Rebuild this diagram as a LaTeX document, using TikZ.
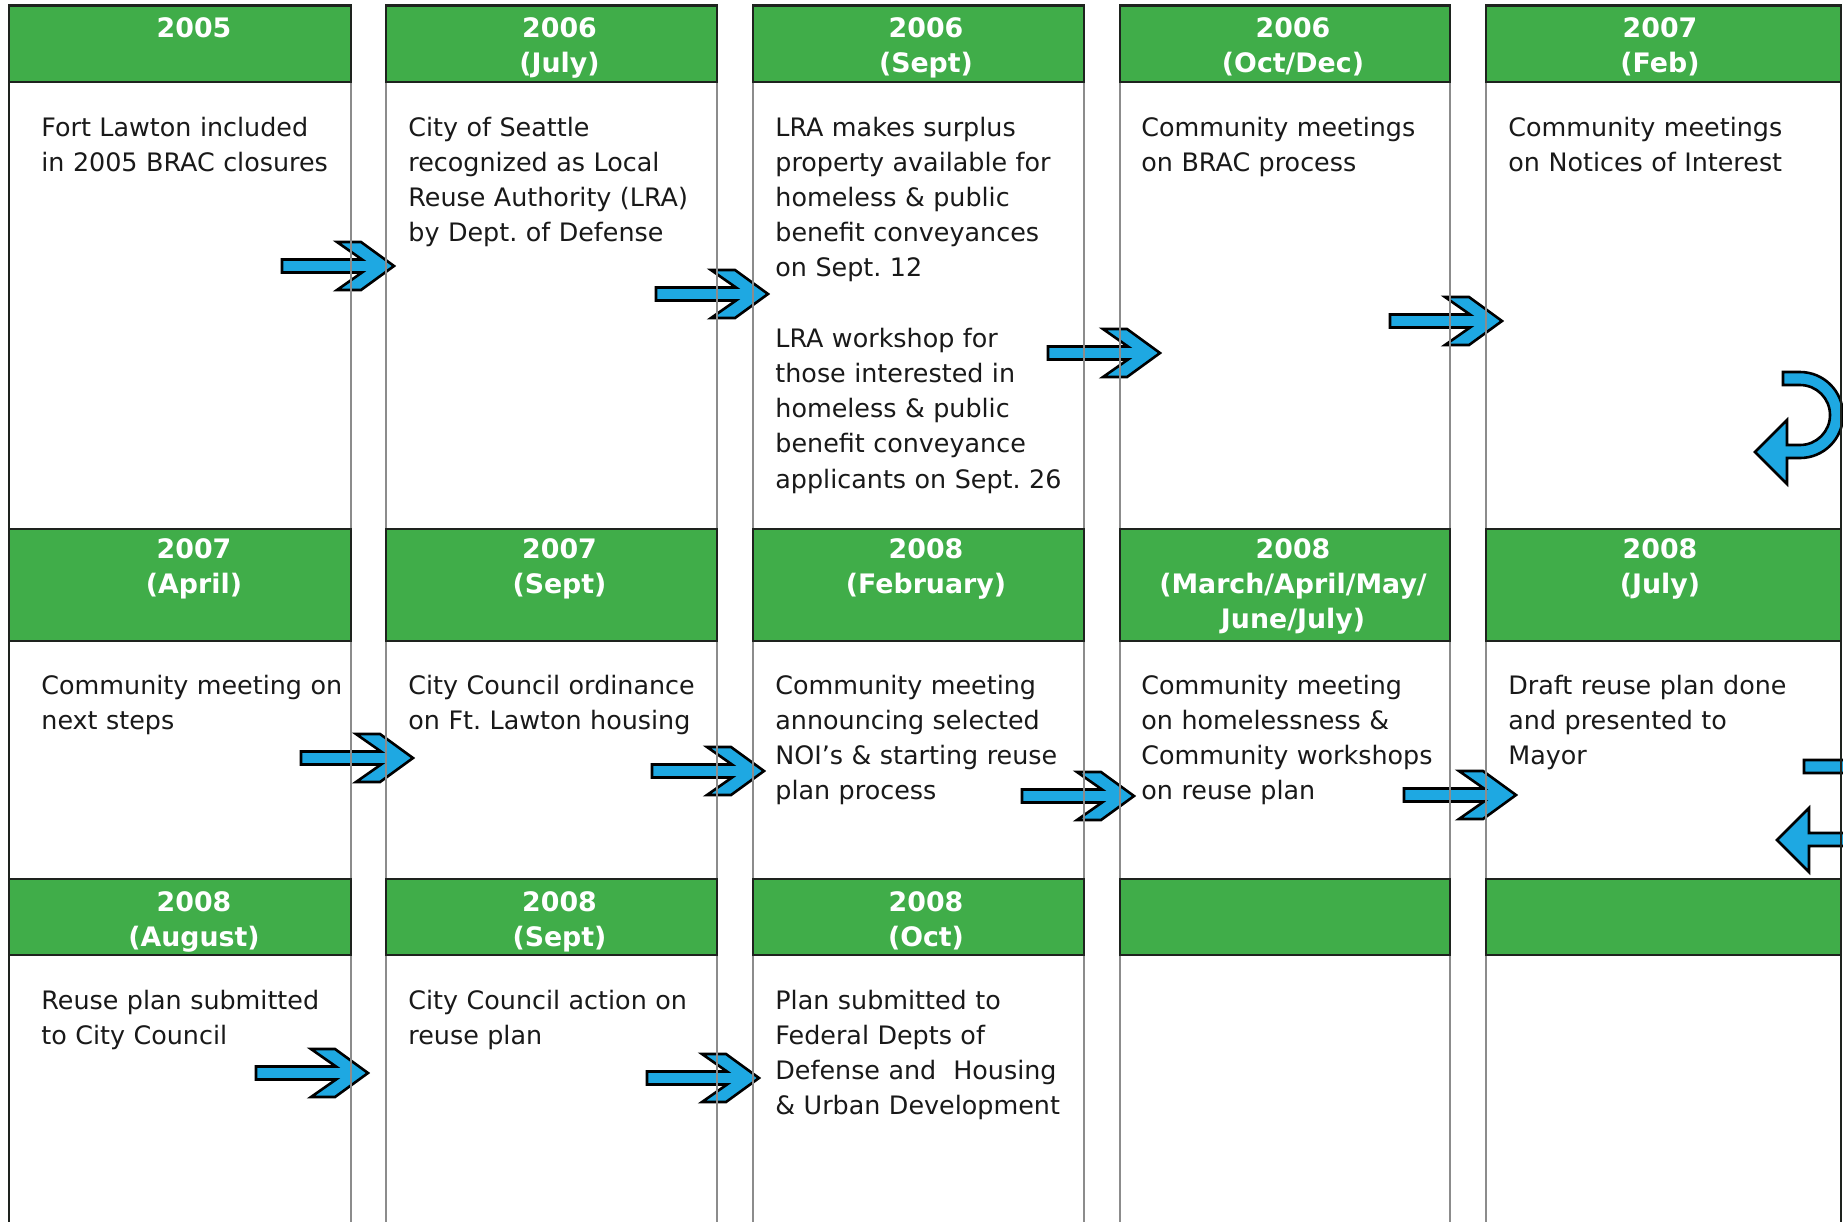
\documentclass[tikz,border=0pt]{standalone}
\usepackage{fontspec}
\setmainfont{DejaVu Sans}
\frenchspacing
\definecolor{hgreen}{RGB}{64,173,73}
\definecolor{ablue}{RGB}{30,168,226}
\definecolor{gline}{RGB}{140,140,140}
\definecolor{hdark}{RGB}{30,35,30}
\definecolor{txt}{RGB}{25,25,25}
\tikzset{
  hdr/.style={fill=hgreen, draw=hdark, line width=1pt},
  colline/.style={draw=gline, line width=0.6pt},
  frame/.style={draw=hdark, line width=1.3pt},
  hd/.style={anchor=base, align=center, text width=170pt, inner sep=0pt, text=white,
    font=\bfseries\fontsize{13.4}{17.7}\selectfont},
  bd/.style={anchor=base west, align=left, text width=175pt, inner sep=0pt, text=txt,
    font=\fontsize{12.7}{17.6}\selectfont},
  barrow/.style={fill=ablue, draw=black, line width=1.3pt, line join=miter},
  rarrow/.pic={\draw[barrow] (-112,-6.5) -- (-32,-6.5) -- (-57,-24) -- (-33,-24) -- (0,0)
     -- (-33,24) -- (-57,24) -- (-32,6.5) -- (-112,6.5) -- cycle;}
}
\begin{document}
\begin{tikzpicture}[x=0.5pt,y=-0.5pt]
\useasboundingbox (0,0) rectangle (1843,1222);
\clip (0,0) rectangle (1843,1222);
\fill[white] (0,0) rectangle (1843,1222);

% arrows (drawn under column lines)
\coordinate (t11) at (394,266);
\coordinate (t12) at (768,294);
\coordinate (t13) at (1160,353);
\coordinate (t14) at (1502,321);
\coordinate (t21) at (413,758);
\coordinate (t22) at (764,771);
\coordinate (t23) at (1134,796);
\coordinate (t24) at (1516,795);
\coordinate (t31) at (368,1073);
\coordinate (t32) at (759,1078);
\foreach \t in {t11,t12,t13,t14,t21,t22,t23,t24,t31,t32} {\pic at (\t) {rarrow};}

% U-turn arrows on the right edge
\draw[barrow] (1783,372) -- (1800,372) arc[start angle=-90,end angle=90,radius=43]
  -- (1787,458) -- (1787,484) -- (1755,452) -- (1787,420) -- (1787,445) -- (1800,445)
  arc[start angle=90,end angle=-90,radius=30] -- (1783,385) -- cycle;
\draw[barrow] (1804,760) -- (1850,760) arc[start angle=-90,end angle=90,radius=43]
  -- (1809,846) -- (1809,872) -- (1777,840) -- (1809,808) -- (1809,833) -- (1850,833)
  arc[start angle=90,end angle=-90,radius=30] -- (1804,773) -- cycle;

% column lines
\foreach \x in {351,386,717,753,1084,1120,1450,1486} {\draw[colline] (\x,5) -- (\x,1222);}

% header bars
\foreach \a/\b in {9/351,386/717,753/1084,1120/1450,1486/1841} {
  \draw[hdr] (\a,5) rectangle (\b,82);
  \draw[hdr] (\a,529) rectangle (\b,641);
  \draw[hdr] (\a,879) rectangle (\b,955);
  \draw[draw=hdark, line width=1.5pt] (\a,5) -- (\b,5);
}

% outer frame
\draw[frame] (9,4.5) -- (9,1222);
\draw[frame] (1841,4.5) -- (1841,1222);

% header texts row 1
\node[hd] (h11) at (194,37) {2005};
\node[hd] (h12) at (559.5,37) {2006\\(July)};
\node[hd] (h13) at (926,37) {2006\\(Sept)};
\node[hd] (h14) at (1293,37) {2006\\(Oct/Dec)};
\node[hd] (h15) at (1660,37) {2007\\(Feb)};
% row 2
\node[hd] (h21) at (194,558) {2007\\(April)};
\node[hd] (h22) at (559.5,558) {2007\\(Sept)};
\node[hd] (h23) at (926,558) {2008\\(February)};
\node[hd] (h24) at (1293,558) {2008\\(March/April/May/\\June/July)};
\node[hd] (h25) at (1660,558) {2008\\(July)};
% row 3
\node[hd] (h31) at (194,911) {2008\\(August)};
\node[hd] (h32) at (559.5,911) {2008\\(Sept)};
\node[hd] (h33) at (926,911) {2008\\(Oct)};

% body texts row 1
\node[bd] (b11) at (41,136) {Fort Lawton included\\in 2005 BRAC closures};
\node[bd] (b12) at (408,136) {City of Seattle\\recognized as Local\\Reuse Authority (LRA)\\by Dept. of Defense};
\node[bd] (b13) at (775,136) {LRA makes surplus\\property available for\\homeless \& public\\benefit conveyances\\on Sept. 12\\[17.6pt]LRA workshop for\\those interested in\\homeless \& public\\benefit conveyance\\applicants on Sept. 26};
\node[bd] (b14) at (1141,136) {Community meetings\\on BRAC process};
\node[bd] (b15) at (1508,136) {Community meetings\\on Notices of Interest};
% row 2
\node[bd] (b21) at (41,694) {Community meeting on\\next steps};
\node[bd] (b22) at (408,694) {City Council ordinance\\on Ft. Lawton housing};
\node[bd] (b23) at (775,694) {Community meeting\\announcing selected\\NOI’s \& starting reuse\\plan process};
\node[bd] (b24) at (1141,694) {Community meeting\\on homelessness \&\\Community workshops\\on reuse plan};
\node[bd] (b25) at (1508,694) {Draft reuse plan done\\and presented to\\Mayor};
% row 3
\node[bd] (b31) at (41,1009) {Reuse plan submitted\\to City Council};
\node[bd] (b32) at (408,1009) {City Council action on\\reuse plan};
\node[bd] (b33) at (775,1009) {Plan submitted to\\Federal Depts of\\Defense and~ Housing\\\& Urban Development};
\end{tikzpicture}
\end{document}
